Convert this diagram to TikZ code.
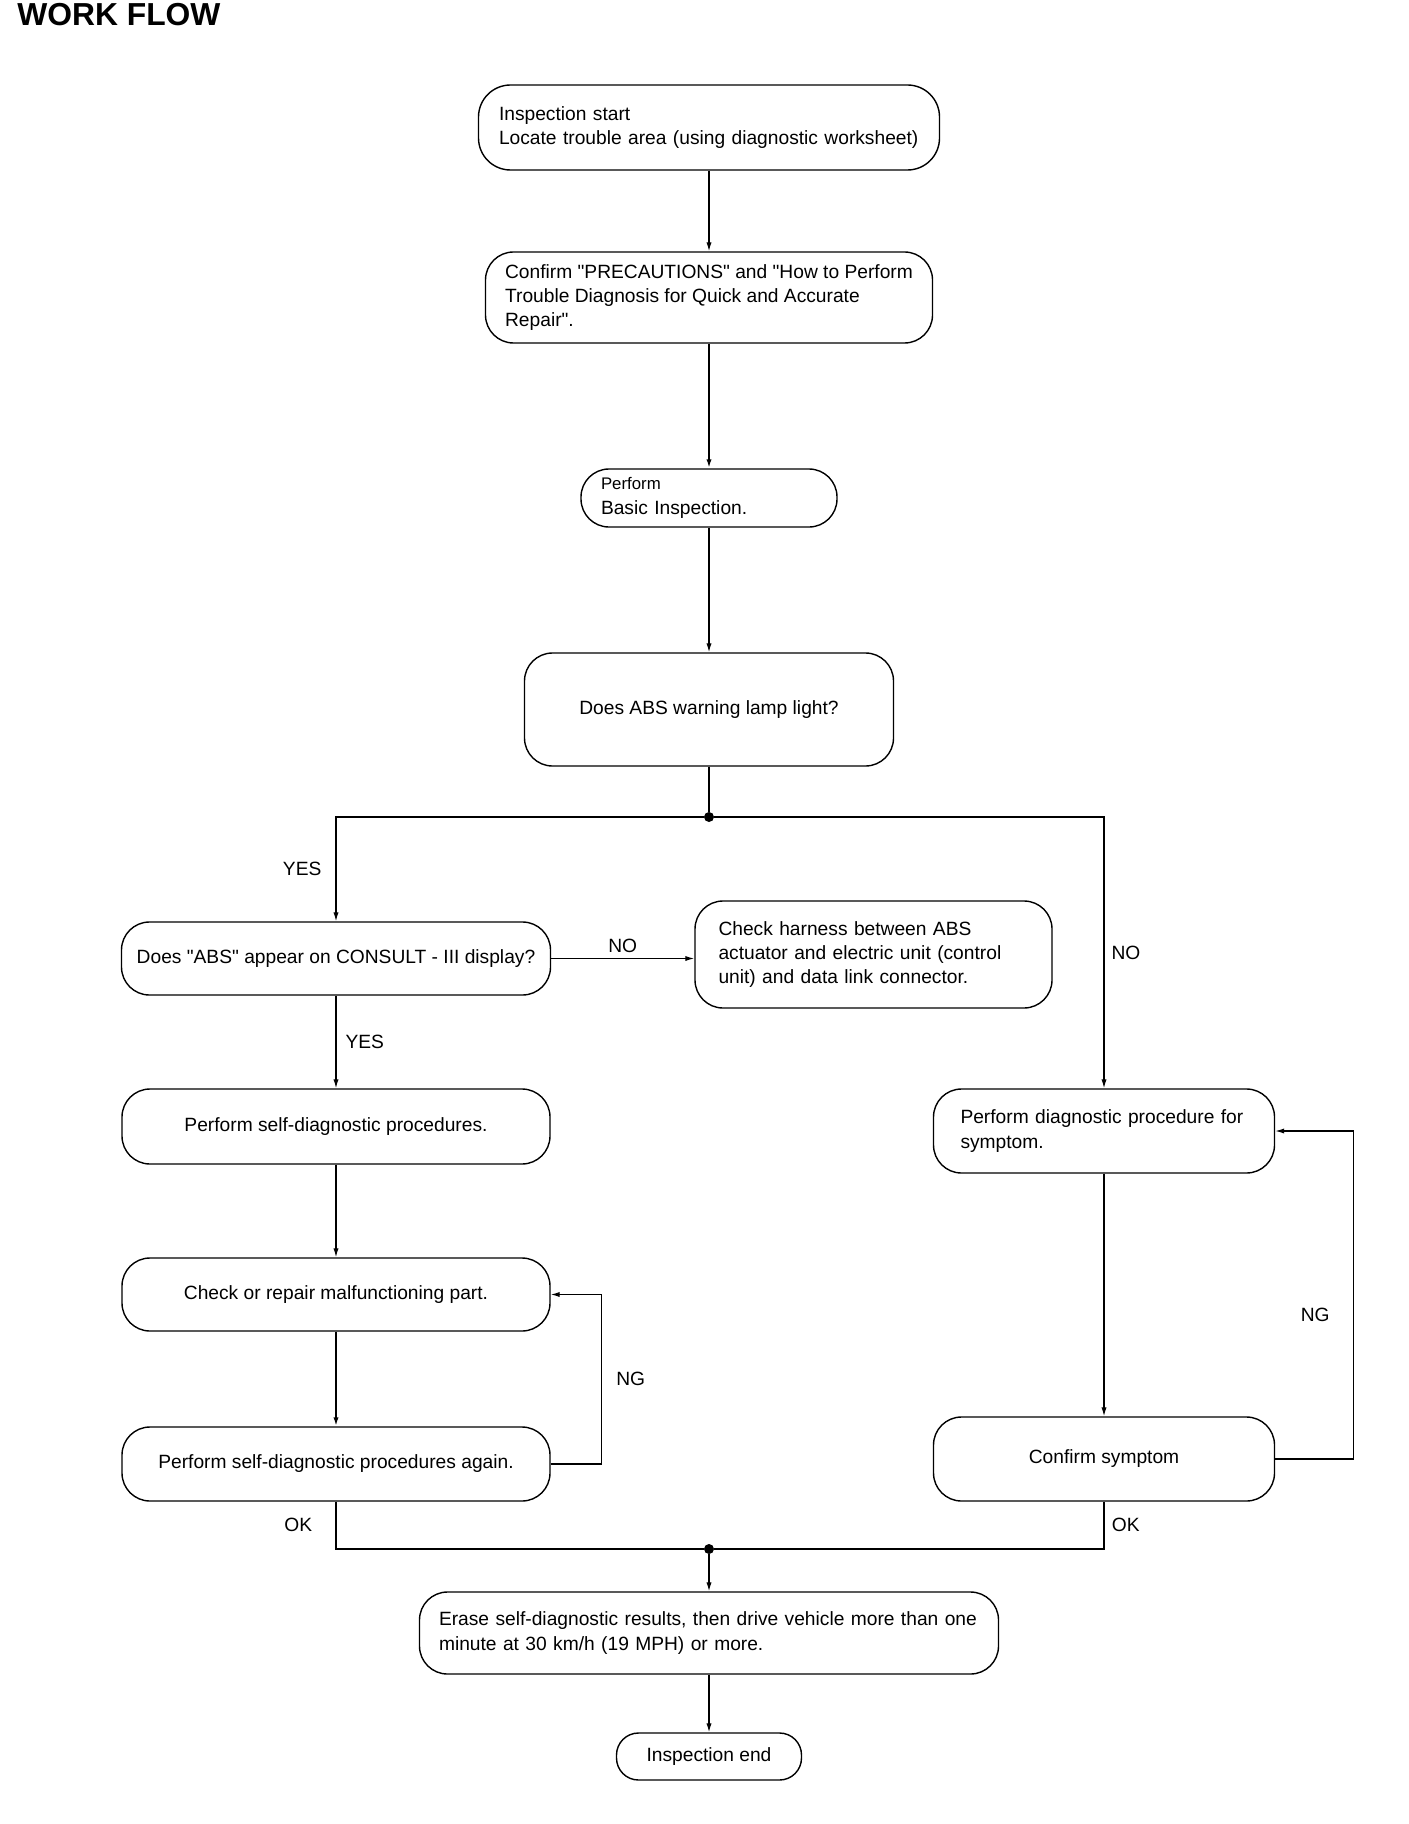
\documentclass[tikz,border=0pt]{standalone}
\usepackage{fontspec}
\setmainfont{Liberation Sans}
\usetikzlibrary{arrows.meta,positioning}
\newcommand{\flowfont}{\fontsize{9.6}{12.2}\selectfont}
\newcommand{\q}{\textquotedbl}
\tikzset{
  box/.style={rectangle, rounded corners=14pt, draw=black, line width=0.7pt,
              align=center, font=\flowfont, inner sep=0pt},
  boxleft/.style={box, align=left},
  line/.style={line width=0.6pt},
  thickline/.style={line width=0.9pt},
  arrow/.style={-{Latex[length=4.5pt,width=2.6pt]}, line width=0.6pt},
  thickarrow/.style={arrow, line width=0.9pt},
  lbl/.style={font=\flowfont, inner sep=0pt},
  dot/.style={circle, fill=black, inner sep=0pt, minimum size=5pt},
}
\begin{document}
\begin{tikzpicture}[x=0.5pt,y=-0.5pt]
\useasboundingbox (0,0) rectangle (1408,1824);
\node[anchor=north west, inner sep=0pt, font=\bfseries\fontsize{15.9}{19}\selectfont] (title) at (17,3) {WORK FLOW};

% main column
\node[boxleft, rounded corners=16pt, minimum width=230.5pt, minimum height=42.5pt, text width=210pt] (start) at (709,127.5)
  {Inspection start\\Locate trouble area (using diagnostic worksheet)};
\node[boxleft, minimum width=223.5pt, minimum height=45.5pt] (confirm) at (709,297.5)
  {Confirm \q PRECAUTIONS\q{} and \q How to Perform\\Trouble Diagnosis for Quick and Accurate\\Repair\q.};
\node[boxleft, minimum width=128pt, minimum height=29pt, text width=108pt] (basic) at (709,498)
  {{\fontsize{8.4}{11}\selectfont Perform}\\Basic Inspection.};
\node[box, minimum width=184.5pt, minimum height=56.5pt] (lamp) at (709,709.5) {Does ABS warning lamp light?};
\node[dot] (dot1) at (709,817) {};

% left column
\node[box, minimum width=214.5pt, minimum height=36.5pt] (consult) at (336,958.5)
  {Does \q ABS\q{} appear on CONSULT - III display?};
\node[boxleft, minimum width=178.5pt, minimum height=53.5pt, text width=155pt] (harness) at (873.5,954.5)
  {Check harness between ABS\\actuator and electric unit (control\\unit) and data link connector.};
\node[box, minimum width=214pt, minimum height=37.5pt] (selfdiag) at (336,1126.5) {Perform self-diagnostic procedures.};
\node[box, minimum width=214pt, minimum height=36.5pt] (repair) at (336,1294.5) {Check or repair malfunctioning part.};
\node[box, minimum width=214pt, minimum height=37pt] (again) at (336,1464) {Perform self-diagnostic procedures again.};

% right column
\node[boxleft, minimum width=170.5pt, minimum height=42pt, text width=143.5pt] (symptom) at (1104,1131)
  {Perform diagnostic procedure for\\symptom.};
\node[box, minimum width=170.5pt, minimum height=42pt] (confirmsym) at (1104,1459) {Confirm symptom};

% end
\node[dot] (dot2) at (709,1549) {};
\node[boxleft, minimum width=289.5pt, minimum height=41pt, text width=270pt] (erase) at (709,1633)
  {Erase self-diagnostic results, then drive vehicle more than one\\minute at 30 km/h (19 MPH) or more.};
\node[box, rounded corners=11pt, minimum width=92.5pt, minimum height=23.5pt] (endnode) at (709,1756.5) {Inspection end};

% connectors
\draw[arrow] (start) -- (confirm);
\draw[thickarrow] (confirm) -- (basic);
\draw[arrow] (basic) -- (lamp);
\draw[line] (lamp) -- (dot1);
\draw[arrow] (dot1) -| node[lbl, pos=0.75, left=7pt] {YES} (consult.north);
\draw[arrow] (dot1) -| node[lbl, pos=0.75, right=3.5pt] {NO} (symptom.north);
\draw[arrow] (consult.east) -- node[lbl, above=2.5pt] {NO} (consult.east -| harness.west);
\draw[arrow] (consult) -- node[lbl, right=4.5pt] {YES} (selfdiag);
\draw[arrow] (selfdiag) -- (repair);
\draw[thickarrow] (repair) -- (again);
\draw[arrow] (again.east) -- ++(51,0) |- node[lbl, pos=0.25, right=7pt] {NG} (repair.east);
\draw[arrow] (symptom) -- (confirmsym);
\draw[arrow] (confirmsym.east) -- ++(78,0) |- node[lbl, pos=0.22, left=11.5pt] {NG} (symptom.east);
\draw[thickline] (again.south) |- node[lbl, pos=0.25, left=11.5pt] {OK} (dot2);
\draw[thickline] (confirmsym.south) |- node[lbl, pos=0.25, right=3.5pt] {OK} (dot2);
\draw[arrow] (dot2) -- (erase);
\draw[arrow] (erase) -- (endnode);
\end{tikzpicture}
\end{document}
